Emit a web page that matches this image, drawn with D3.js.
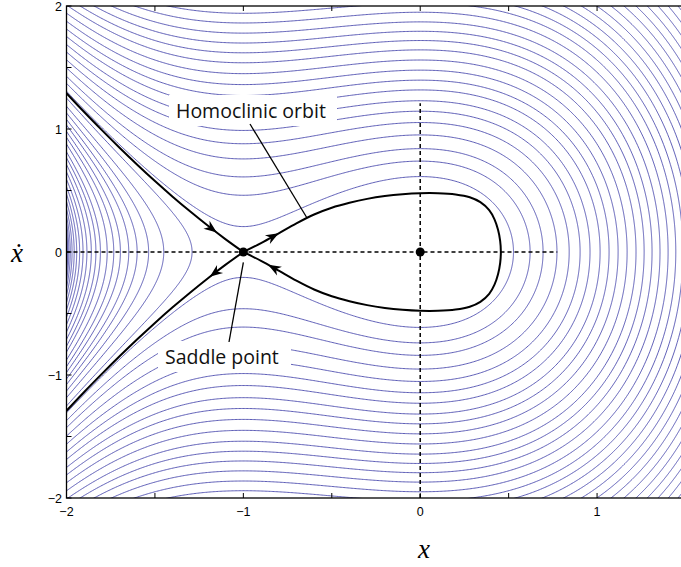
<!DOCTYPE html>
<html><head><meta charset="utf-8">
<script src="https://cdn.jsdelivr.net/npm/d3@7"></script>
<style>body{margin:0;background:#fff;overflow:hidden}</style>
</head><body>
<svg id="chart" width="681" height="567"></svg>
<script>
// ---- data ----
// energy levels E = xdot^2/2 + x^2/2 + x^3/3 of the drawn trajectories
const energyLevels = [-0.6654, -0.6606, -0.6522, -0.6402, -0.6246, -0.6054, -0.5826, -0.5562,
  -0.5262, -0.4926, -0.4554, -0.4146, -0.3741, -0.336, -0.282, -0.233, -0.187, -0.134, -0.086,
  -0.028, 0.035, 0.1165, 0.188, 0.273, 0.353, 0.453, 0.554, 0.655, 0.756, 0.868, 0.976, 1.093,
  1.218, 1.35, 1.478, 1.61, 1.75, 1.90, 2.05, 2.197, 2.349, 2.506, 2.667, 2.831, 3.0, 3.173,
  3.349, 3.529, 3.714, 3.903, 4.095, 4.291];
// homoclinic loop (upper half; the lower half is its mirror image)
const loopX    = [-1, -0.9, -0.8, -0.7, -0.6, -0.5, -0.4, -0.3, -0.2, -0.1, 0, 0.1, 0.2, 0.28, 0.34, 0.39, 0.42, 0.44, 0.452, 0.456];
const loopXdot = [0, 0.072, 0.152, 0.233, 0.305, 0.36, 0.4, 0.432, 0.455, 0.47, 0.478, 0.478, 0.468, 0.445, 0.405, 0.34, 0.265, 0.18, 0.09, 0];
// stable / unstable arms to the left of the saddle (upper half)
const armX    = [-2, -1.9, -1.8, -1.7, -1.6, -1.5, -1.4, -1.3, -1.2, -1.1, -1];
const armXdot = [1.291, 1.138, 0.991, 0.848, 0.710, 0.577, 0.450, 0.329, 0.213, 0.103, 0];
const equilibria = [[-1, 0], [0, 0]];
const xTicks = [-2, -1, 0, 1];
const yTicks = [-2, -1, 0, 1, 2];
const minorTicks = [-1.5, -0.5, 0.5, 1.5];
const labels = ["Homoclinic orbit", "Saddle point"];

// ---- drawing ----
const svg = d3.select("#chart");
const x = d3.scaleLinear().domain([-2, 1.5]).range([66.5, 685.5]);
const y = d3.scaleLinear().domain([-2, 2]).range([498, 6]);
const energy = (p, v) => v * v / 2 + p * p / 2 + p * p * p / 3;

svg.append("defs").append("clipPath").attr("id", "clip")
  .append("rect").attr("x", x(-2)).attr("y", y(2)).attr("width", x(1.5) - x(-2)).attr("height", y(-2) - y(2));

const plot = svg.append("g").attr("clip-path", "url(#clip)");

// contour grid
const gx0 = -2.1, gx1 = 1.6, gy0 = -2.1, gy1 = 2.1, nx = 480, ny = 520;
const sx = (gx1 - gx0) / (nx - 1), sy = (gy1 - gy0) / (ny - 1);
const values = new Float64Array(nx * ny);
for (let j = 0; j < ny; j++) for (let i = 0; i < nx; i++)
  values[j * nx + i] = energy(gx0 + i * sx, gy0 + j * sy);
const contours = d3.contours().size([nx, ny]).thresholds(energyLevels)(values);
const toData = pt => [gx0 + (pt[0] - 0.5) * sx, gy0 + (pt[1] - 0.5) * sy];
const ringLine = d3.line().x(d => x(d[0])).y(d => y(d[1]));
const sepE = 1 / 6;
contours.forEach(c => {
  c.coordinates.forEach(poly => poly.forEach(ring => {
    const pts = ring.map(toData);
    if (c.value > 0 && c.value < sepE && d3.min(pts, d => d[0]) > -1.02) return; // not drawn inside loop
    plot.append("path").attr("d", ringLine(pts) + "Z")
      .attr("fill", "none").attr("stroke", "#4242aa").attr("stroke-width", 0.85);
  }));
});

// dashed axes through centre
plot.append("line").attr("x1", x(-2)).attr("x2", x(0.775)).attr("y1", y(0)).attr("y2", y(0))
  .attr("stroke", "#000").attr("stroke-width", 1.5).attr("stroke-dasharray", "4,3");
plot.append("line").attr("x1", x(0)).attr("x2", x(0)).attr("y1", y(-2)).attr("y2", y(1.21))
  .attr("stroke", "#000").attr("stroke-width", 1.5).attr("stroke-dasharray", "4,3");

// separatrices
const upperLoop = loopX.map((v, i) => [v, loopXdot[i]]);
const lowerLoop = loopX.map((v, i) => [v, -loopXdot[i]]).reverse();
const loopPts = upperLoop.concat(lowerLoop.slice(1));
const curve = d3.line().x(d => x(d[0])).y(d => y(d[1])).curve(d3.curveCatmullRom.alpha(0.5));
plot.append("path").attr("d", curve(loopPts)).attr("fill", "none").attr("stroke", "#000").attr("stroke-width", 2);
const armUp = armX.map((v, i) => [v, armXdot[i]]);
const armDn = armX.map((v, i) => [v, -armXdot[i]]);
[armUp, armDn].forEach(a => plot.append("path").attr("d", curve(a)).attr("fill", "none").attr("stroke", "#000").attr("stroke-width", 2));

// arrowheads
function interp(xs, ys, xv) {
  for (let i = 0; i < xs.length - 1; i++) {
    const a = xs[i], b = xs[i + 1];
    if ((xv - a) * (xv - b) <= 0) { const t = (xv - a) / (b - a); return ys[i] + t * (ys[i + 1] - ys[i]); }
  }
  return ys[ys.length - 1];
}
function arrow(xs, ys, sign, xv, dir) {
  const px = x(xv), py = y(sign * interp(xs, ys, xv));
  const px2 = x(xv + 0.01 * dir), py2 = y(sign * interp(xs, ys, xv + 0.01 * dir));
  const ang = Math.atan2(py2 - py, px2 - px) * 180 / Math.PI;
  svg.append("path").attr("d", "M0,0 L-13,-5 L-9,0 L-13,5 Z")
    .attr("transform", `translate(${px},${py}) rotate(${ang})`).attr("fill", "#000");
}
arrow(armX, armXdot, 1, -1.15, 1);
arrow(loopX, loopXdot, 1, -0.8, 1);
arrow(armX, armXdot, -1, -1.19, -1);
arrow(loopX, loopXdot, -1, -0.86, -1);

// equilibria
svg.selectAll("circle.eq").data(equilibria).join("circle").attr("class", "eq")
  .attr("cx", d => x(d[0])).attr("cy", d => y(d[1])).attr("r", 4.5).attr("fill", "#000");

// annotations
const fontSans = "'Open Sans', 'Liberation Sans', Arial, sans-serif";
svg.append("rect").attr("x", 169).attr("y", 95).attr("width", 168).attr("height", 31).attr("fill", "#fff");
svg.append("rect").attr("x", 158).attr("y", 341).attr("width", 133).attr("height", 31).attr("fill", "#fff");
svg.append("line").attr("x1", 250).attr("y1", 124).attr("x2", x(-0.64)).attr("y2", y(interp(loopX, loopXdot, -0.64)))
  .attr("stroke", "#000").attr("stroke-width", 1.3);
svg.append("line").attr("x1", x(-1)).attr("y1", y(-0.085)).attr("x2", 229).attr("y2", 342)
  .attr("stroke", "#000").attr("stroke-width", 1.3);
svg.append("text").attr("x", 176).attr("y", 118).text(labels[0])
  .attr("font-family", fontSans).attr("font-size", 19.5).attr("fill", "#111");
svg.append("text").attr("x", 165).attr("y", 364).text(labels[1])
  .attr("font-family", fontSans).attr("font-size", 19.5).attr("fill", "#111");

// frame and ticks
svg.append("rect").attr("x", x(-2)).attr("y", y(2)).attr("width", x(1.5) - x(-2)).attr("height", y(-2) - y(2))
  .attr("fill", "none").attr("stroke", "#000").attr("stroke-width", 1.3);
const tickG = svg.append("g").attr("stroke", "#000").attr("stroke-width", 1);
xTicks.concat(minorTicks.filter(t => t < 1.5)).forEach(t => {
  tickG.append("line").attr("x1", x(t)).attr("x2", x(t)).attr("y1", y(-2)).attr("y2", y(-2) - 5);
  tickG.append("line").attr("x1", x(t)).attr("x2", x(t)).attr("y1", y(2)).attr("y2", y(2) + 5);
});
yTicks.concat(minorTicks).forEach(t => {
  tickG.append("line").attr("x1", x(-2)).attr("x2", x(-2) + 5).attr("y1", y(t)).attr("y2", y(t));
});
const fmt = d => d < 0 ? "\u2212" + Math.abs(d) : String(d);
svg.selectAll("text.xt").data(xTicks).join("text").attr("class", "xt")
  .attr("x", d => x(d)).attr("y", 516).attr("text-anchor", "middle")
  .attr("font-family", "'Liberation Sans', Arial, sans-serif").attr("font-size", 12.5).text(fmt);
svg.selectAll("text.yt").data(yTicks).join("text").attr("class", "yt")
  .attr("x", 62).attr("y", d => y(d) + 4.5).attr("text-anchor", "end")
  .attr("font-family", "'Liberation Sans', Arial, sans-serif").attr("font-size", 12.5).text(fmt);

// axis labels
svg.append("text").attr("x", 424).attr("y", 558).attr("text-anchor", "middle")
  .attr("font-family", "'Liberation Serif', 'DejaVu Serif', serif").attr("font-style", "italic")
  .attr("font-size", 27).text("x");
svg.append("text").attr("x", 17).attr("y", 262).attr("text-anchor", "middle")
  .attr("font-family", "'Liberation Serif', 'DejaVu Serif', serif").attr("font-style", "italic")
  .attr("font-size", 27).text("\u1E8B");
</script>
</body></html>
